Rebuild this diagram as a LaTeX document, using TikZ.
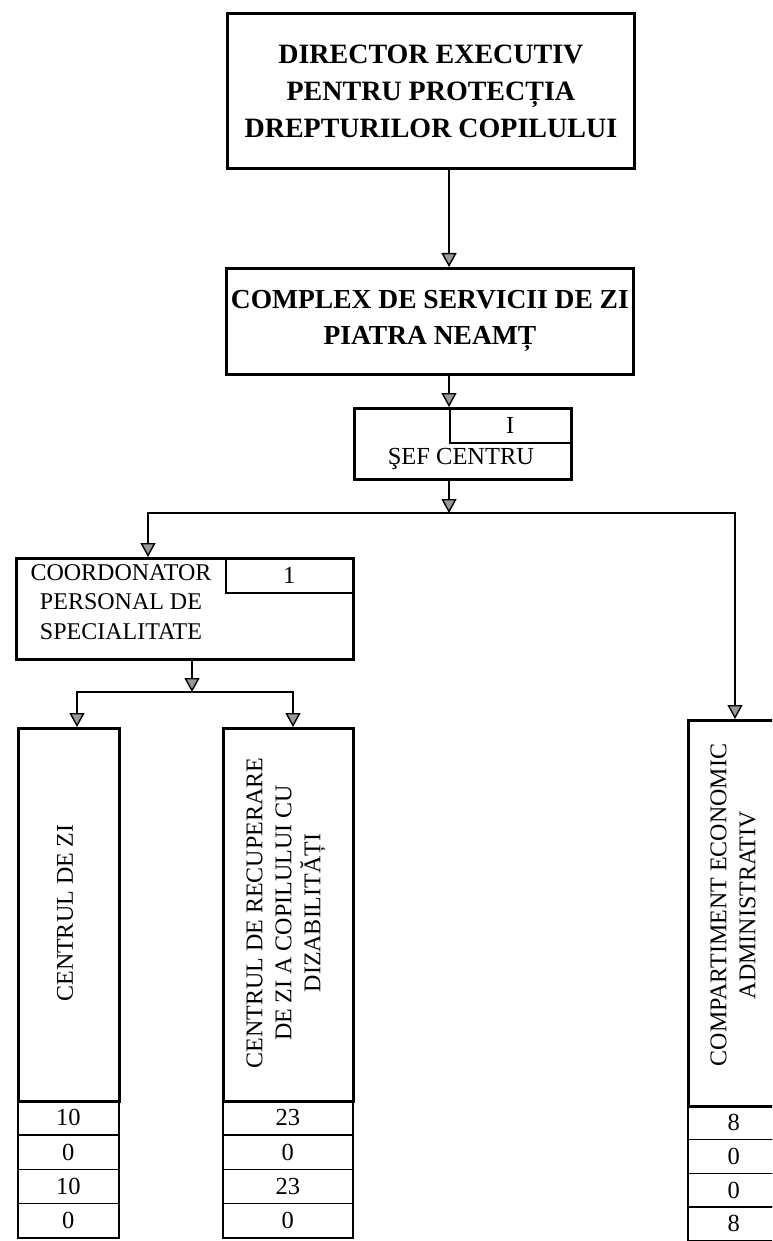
\documentclass[tikz,border=0pt]{standalone}
\usepackage{fontspec}
\setmainfont{Liberation Serif}
\usetikzlibrary{arrows.meta,calc}
\begin{document}
\begin{tikzpicture}[x=1pt,y=-1pt,
  box/.style={draw, line width=2.8pt, inner sep=0pt, anchor=north west},
  cell/.style={draw, line width=1.5pt, inner sep=0pt, anchor=north west, font=\fontsize{24.5}{26}\selectfont},
  arr/.style={line width=1.4pt, -{Triangle[width=15pt,length=14pt,fill=gray!80]}},
  ttl/.style={font=\fontsize{28}{37}\selectfont\bfseries, align=center},
  txt/.style={font=\fontsize{24.5}{30}\selectfont, align=center},
  vtxt/.style={font=\fontsize{24}{29}\selectfont, align=center, rotate=90, inner sep=0pt},
]
\useasboundingbox (0,0) rectangle (772,1241);
\clip (0,0) rectangle (772,1241);

% top boxes
\node[box, ttl, minimum width=407pt, minimum height=155pt] (dir) at (226,12)
  {DIRECTOR EXECUTIV\\PENTRU PROTECȚIA\\DREPTURILOR COPILULUI};
\node[box, ttl, font=\fontsize{27.5}{36}\selectfont\bfseries, minimum width=407pt, minimum height=106pt] (cplx) at (225,267)
  {COMPLEX DE SERVICII DE ZI\\PIATRA NEAMȚ};

% sef centru
\node[box, minimum width=217pt, minimum height=71pt] (sef) at (353,407) {};
\node[cell, minimum width=121pt, minimum height=35pt] (sefi) at (449,407) {I};
\node[txt] (seft) at (461,459) {ŞEF CENTRU};

% coordonator
\node[box, minimum width=337pt, minimum height=101pt] (coord) at (15,557) {};
\node[cell, minimum width=127pt, minimum height=35pt] (coordi) at (225,557) {1};
\node[txt, font=\fontsize{24}{29.5}\selectfont] (coordt) at (121,602) {COORDONATOR\\PERSONAL DE\\SPECIALITATE};

% columns
\node[box, minimum width=101pt, minimum height=373pt] (c1) at (17,727) {};
\node[vtxt] (c1t) at (65,913) {CENTRUL DE ZI};
\node[cell, minimum width=101pt, minimum height=34.25pt] (c1a) at (17,1100) {10};
\node[cell, minimum width=101pt, minimum height=34.25pt] (c1b) at (17,1134.25) {0};
\node[cell, minimum width=101pt, minimum height=34.25pt] (c1c) at (17,1168.5) {10};
\node[cell, minimum width=101pt, minimum height=34.25pt] (c1d) at (17,1202.75) {0};

\node[box, minimum width=130pt, minimum height=373pt] (c2) at (222,727) {};
\node[vtxt] (c2t) at (286,913) {CENTRUL DE RECUPERARE\\DE ZI A COPILULUI CU\\DIZABILITĂȚI};
\node[cell, minimum width=130pt, minimum height=34.25pt] (c2a) at (222,1100) {23};
\node[cell, minimum width=130pt, minimum height=34.25pt] (c2b) at (222,1134.25) {0};
\node[cell, minimum width=130pt, minimum height=34.25pt] (c2c) at (222,1168.5) {23};
\node[cell, minimum width=130pt, minimum height=34.25pt] (c2d) at (222,1202.75) {0};

\node[box, minimum width=92pt, minimum height=386pt] (c3) at (687,719) {};
\node[vtxt] (c3t) at (733,905) {COMPARTIMENT ECONOMIC\\ADMINISTRATIV};
\node[cell, minimum width=92pt, minimum height=33.75pt] (c3a) at (687,1105) {8};
\node[cell, minimum width=92pt, minimum height=33.75pt] (c3b) at (687,1138.75) {0};
\node[cell, minimum width=92pt, minimum height=33.75pt] (c3c) at (687,1172.5) {0};
\node[cell, minimum width=92pt, minimum height=33.75pt] (c3d) at (687,1206.25) {8};

% junctions
\coordinate (j1) at (449,513);
\coordinate (xL) at (148,0);
\coordinate (xR) at (735,0);
\coordinate (j2) at (192,692);
\coordinate (x1) at (77,0);
\coordinate (x2) at (293,0);

% connectors
\draw[arr] (dir.south -| sefi.west) -- (cplx.north -| sefi.west);
\draw[arr] (cplx.south -| sefi.west) -- (sefi.north west);
\draw[arr] (sef.south -| sefi.west) -- (j1);
\draw[arr] (j1) -| (coord.north -| xL);
\draw[arr] (j1) -| (c3.north -| xR);
\draw[arr] (coord.south -| j2) -- (j2);
\draw[arr] (j2) -| (c1.north -| x1);
\draw[arr] (j2) -| (c2.north -| x2);
\end{tikzpicture}
\end{document}
